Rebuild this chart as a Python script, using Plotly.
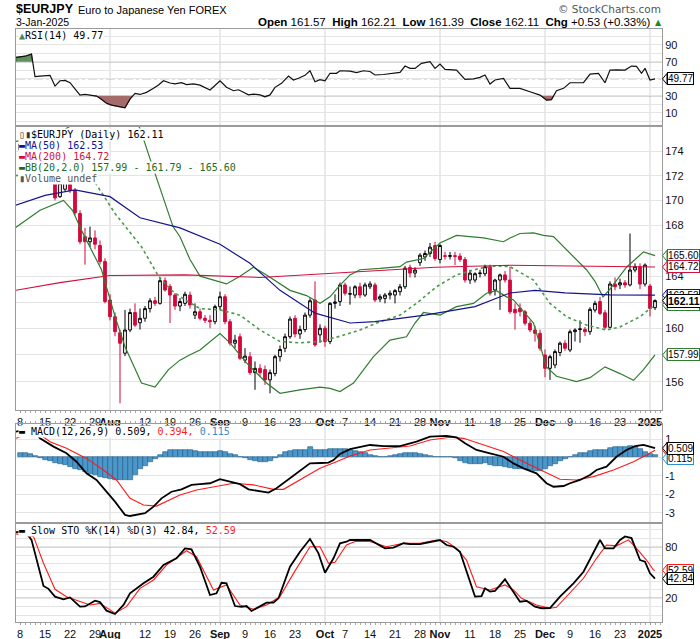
import math
import plotly.graph_objects as go

W, H = 700, 639
def px(x): return x / W
def py(y): return 1 - y / H

# ---------------- data (trading-day index: 0 = 8-Jul-2024 ... 127 = 3-Jan-2025) ----------------
opens = [174.1,174.6,174.7,175.2,172.6,172.3,172.4,172.2,170.3,170.9,
171.3,170.8,168.95,167.1,166.7,167.0,166.4,165.15,162.16,160.88,
159.66,158.12,159.87,161.2,160.42,160.76,161.5,162.1,161.9,163.65,
163.2,162.54,161.69,161.9,162.54,161.0,161.26,160.76,160.6,160.5,
161.65,162.41,160.5,158.87,159.36,157.6,157.86,156.67,156.99,156.9,
156.13,156.6,157.86,158.49,159.36,160.76,159.57,159.9,161.0,162.16,
159.5,160.0,158.99,161.9,162.04,163.32,162.6,162.54,163.18,162.54,
163.18,163.32,162.23,162.28,162.54,162.54,162.8,163.18,164.69,164.24,
165.05,165.5,165.77,166.4,165.3,165.6,165.55,165.6,165.57,165.3,
163.7,163.7,164.2,164.19,164.74,162.93,163.7,164.1,163.7,161.44,
161.52,161.26,160.38,159.87,159.62,157.99,156.99,157.24,158.17,158.87,
158.36,159.74,159.9,159.92,159.74,161.39,162.04,161.18,160.07,163.39,
163.32,163.49,163.32,164.48,164.74,163.39,163.24,161.57]
highs = [174.8,175.0,175.4,175.4,173.0,172.7,172.6,172.4,171.7,171.7,
171.6,171.0,169.2,167.8,167.9,167.6,166.8,165.4,162.6,161.2,
159.9,161.4,161.5,161.9,161.5,161.7,162.3,162.4,163.9,163.9,
163.4,162.7,162.3,162.8,162.8,161.9,161.5,161.0,161.0,161.8,
162.8,162.6,160.7,159.5,159.6,158.5,158.2,157.5,157.3,157.2,
156.9,158.0,158.7,159.6,160.9,161.0,160.2,161.2,162.3,163.6,
160.3,160.2,162.0,162.6,163.5,163.5,163.2,163.3,163.5,163.5,
163.6,163.5,162.6,162.7,162.9,163.0,163.4,164.8,164.9,164.7,
165.8,166.0,166.6,166.7,166.5,165.9,165.9,165.9,165.8,165.5,
164.5,164.3,164.5,164.9,164.9,163.8,164.2,164.4,164.74,161.9,
161.9,161.4,160.6,160.2,159.9,158.4,158.0,158.4,159.0,159.1,
159.9,160.0,160.6,160.1,161.6,162.1,162.4,161.4,163.6,163.9,
163.8,163.7,167.35,165.0,165.0,165.0,163.4,162.21]
lows = [173.8,174.3,174.5,172.0,171.9,172.0,171.9,170.0,170.2,170.7,
170.6,168.8,166.5,164.9,166.3,166.1,164.9,161.9,160.6,159.4,
154.41,157.9,159.7,160.1,159.9,160.5,161.2,161.7,161.8,162.8,
160.4,161.4,161.3,161.7,161.5,160.7,160.6,160.4,160.0,160.3,
161.4,160.3,158.7,158.5,157.6,157.37,156.5,155.4,156.4,155.76,
155.14,156.4,157.5,158.2,159.2,159.3,159.2,159.7,160.8,158.6,
158.9,158.6,158.8,161.5,161.7,162.5,161.8,162.3,162.3,162.4,
163.0,162.0,162.0,161.9,162.2,161.9,162.5,163.0,163.9,163.9,
164.8,165.2,165.5,165.2,165.0,165.3,165.3,164.87,165.1,163.5,
163.4,163.5,163.9,164.0,162.5,162.5,161.4,163.5,161.1,159.9,
160.9,160.2,159.7,158.99,158.3,156.33,156.13,157.0,157.9,158.3,
158.2,159.0,158.9,159.4,159.5,161.2,161.0,159.9,160.0,162.9,
163.0,163.1,163.2,164.3,163.0,163.2,160.9,161.39]
closes = [174.6,174.7,175.2,172.6,172.3,172.4,172.2,170.2,171.4,171.5,
170.8,169.0,166.7,166.7,167.0,166.5,165.15,162.04,160.88,159.74,
158.87,159.87,161.2,160.24,160.76,161.5,162.1,161.9,163.65,162.93,
162.54,161.69,162.04,162.6,161.78,161.26,160.76,160.6,160.5,161.65,
162.41,160.5,158.87,159.1,157.74,157.9,156.67,156.99,156.67,156.13,
156.67,157.86,158.4,159.36,160.7,159.57,159.9,161.0,162.1,158.74,
160.0,158.99,161.9,162.0,163.32,162.68,162.65,163.18,162.54,163.32,
163.4,162.16,162.41,162.54,162.68,162.88,163.18,164.62,164.24,164.48,
165.64,165.77,166.27,165.38,166.4,165.55,165.6,165.55,165.3,163.7,
164.24,164.19,164.24,164.74,162.68,163.7,164.1,163.7,161.26,161.18,
161.26,160.38,159.87,159.62,158.49,156.99,157.86,158.24,158.87,158.49,
159.74,159.87,159.95,159.74,161.44,161.9,161.13,160.07,163.39,163.18,
163.49,163.32,164.48,164.74,163.39,164.87,161.52,162.11]

ma50_pts = [(-1,169.6),(5,170.4),(11,170.85),(18,170.3),(24,168.6),(32,167.8),(40,166.5),
            (46,165.0),(52,162.9),(59,161.15),(66,160.4),(71,160.5),(81,161.0),(91,161.65),
            (98,162.7),(103,162.9),(109,162.7),(118,162.55),(127,162.53)]
ma200_pts = [(-1,162.9),(8,163.5),(18,164.05),(33,164.1),(48,163.9),(64,164.25),(83,164.7),
             (98,164.85),(127,164.72)]
bb_up_pts = [(-1,174.8),(4,175.2),(9,175.8),(13,177.0),(18,178.5),(21,178.2),(24,175.9),
             (26,173.4),(28,171.0),(30.6,167.9),(32,167.1),(34,165.3),(36,164.0),(38.7,163.7),
             (41.3,163.4),(44,164.0),(46.7,164.7),(49.3,164.1),(52,163.4),(54,162.9),(57.3,162.5),
             (60,161.9),(62,162.4),(64,163.3),(66,164.1),(68,164.5),(72,164.6),(76,164.74),
             (77.3,165.1),(80.7,165.38),(84,166.6),(87.3,167.2),(92.7,167.0),(96.7,166.7),
             (98,167.0),(100,167.35),(102.7,167.4),(104.7,167.2),(106.7,167.1),(109.3,166.1),
             (113.3,164.5),(115,163.6),(116.6,162.4),(118,163.0),(121.3,164.7),(124.7,165.9),
             (127,165.60)]
bb_mid_pts = [(-1,172.0),(5,172.3),(10,172.2),(14.3,171.9),(19,168.95),(24.3,166.3),(27.7,164.0),
              (30.3,162.9),(33,162.16),(36,161.5),(40,161.4),(44,161.0),(48,159.87),(52,159.0),
              (56,158.9),(60,159.0),(64,159.4),(68,159.87),(72,160.5),(76,161.0),(79.3,161.9),
              (83.3,163.18),(87.3,164.1),(92,164.62),(95.3,164.8),(98,164.74),(102.7,163.7),
              (106,161.9),(109.3,160.88),(113.3,160.24),(117.3,159.87),(120,160.1),(124,160.88),
              (127,161.79)]
bb_lo_pts = [(-1,167.8),(4,169.2),(8.7,170.0),(10.5,169.2),(12.3,167.6),(16.3,164.5),(19,160.9),
             (21,158.6),(24.3,155.9),(27,155.6),(29.7,156.9),(32,157.6),(34,158.0),(36,158.36),
             (40,159.6),(42,158.9),(45.3,157.4),(49.3,155.9),(52,155.14),(56,155.4),(60,155.6),
             (62,155.5),(64,155.27),(66.7,155.9),(70.7,157.86),(74,159.1),(77.3,159.36),(79,160.4),
             (80.7,161.2),(84,161.0),(87.3,161.65),(90.7,161.9),(93.3,162.68),(95.3,162.88),
             (97.3,162.4),(98.7,162.16),(102.7,160.4),(105.3,157.1),(107.3,156.4),(111.3,156.0),
             (114,156.3),(117,157.1),(120,156.6),(122.7,156.1),(124.7,156.9),(127,157.99)]

rsi_pts = [(-0.8,75.2),(1,76.5),(2.3,79),(3,52.4),(4,53),(5.3,53.2),(6,54),(7,41.4),(8,47.6),(9,48),
           (10,45.3),(11,38),(12,30.8),(13,31.5),(14,31),(15.3,29.6),(16,27),(17.3,21.1),(18.3,19),
           (19.3,17.9),(20,17.5),(21,15.9),(22,26),(23,32.8),(24,31.5),(25.3,34),(26.7,38.7),
           (27.7,42.6),(28.7,47.6),(30,45),(31,44),(32.3,45.3),(33.3,43),(34.7,44),(36,42.5),
           (38,36.7),(39,42),(40,47.6),(41.3,40),(42.7,35.9),(43.7,37),(44.7,33.5),(45.7,31),
           (46.7,32),(48,31),(49,28.8),(50,31),(51,39.9),(52.3,44.6),(53.7,53.2),(54.7,48.5),
           (55.7,50.5),(57,54),(58,59.4),(59,46.5),(60,49),(61,47.6),(62,56.4),(63.3,56.4),
           (64,59.4),(66,59),(67.3,57.1),(68.7,59.4),(70,58.5),(71,54.4),(72.7,55),(74.7,56.4),
           (76,57.5),(77,64.9),(78,62.2),(79,62.2),(80.3,68.1),(82,70),(83,62.2),(84,67.3),
           (85,61.1),(87.3,60.2),(89,49.3),(90.7,49.8),(92,51.6),(93,54.4),(94,43.8),(95,48.5),
           (96.7,50.5),(98,38.7),(100,38.7),(102,34.7),(104,30.8),(105.3,24.9),(106.3,25.5),
           (107.3,35.9),(108.7,38.7),(110,45.3),(111.3,45),(112.7,45.3),(114,55.5),(115.7,56.4),
           (117,45.3),(118,60.2),(119.4,60.5),(121,60.2),(122.3,64.9),(123.3,64.5),(124.3,56.4),
           (125,62.2),(126,48.5),(127,49.77)]

macd_pts = [(-0.8,1.4),(1,1.5),(2.6,1.5),(4,1.04),(6.7,0.59),(9.3,0.23),(11.3,-0.23),(13.3,-0.86),
            (15.3,-1.22),(17.3,-1.86),(19,-2.4),(21,-3.12),(22,-3.18),(25,-3.03),(26.7,-2.67),
            (28.3,-2.22),(30.3,-1.86),(32.3,-1.73),(34.3,-1.49),(36,-1.45),(38,-1.4),(40,-1.18),
            (42,-1.31),(44,-1.45),(45.7,-1.73),(48,-1.82),(49.7,-1.91),(51.3,-1.67),(54,-1.13),
            (56,-0.77),(58,-0.32),(60.3,-0.3),(61.7,-0.28),(62.7,-0.14),(64,0.19),(66,0.45),
            (70,0.68),(72.7,0.62),(76,0.62),(79.3,0.86),(82,1.13),(85.3,1.18),(87.3,1.1),(89,0.77),
            (91.3,0.41),(94,0.23),(96.7,0.04),(98.7,-0.32),(100.7,-0.59),(103.3,-0.86),(105.3,-1.4),
            (106.7,-1.59),(108.7,-1.55),(110,-1.4),(112,-1.22),(114,-0.95),(115.3,-0.68),
            (117.3,-0.5),(119.3,0.04),(121.3,0.41),(123,0.62),(124.7,0.68),(125.7,0.59),(127,0.509)]
signal_pts = [(-0.8,1.04),(1,1.2),(2,1.3),(4,1.25),(6,0.86),(9.3,0.5),(13.3,-0.05),(16.7,-0.68),
              (19.3,-1.22),(22,-2.22),(24.7,-2.58),(27.3,-2.64),(29.3,-2.4),(32,-2.04),(35.3,-1.77),
              (39.3,-1.59),(42.7,-1.4),(46.7,-1.49),(50.7,-1.73),(52.7,-1.73),(56,-1.22),(60,-0.59),
              (63.3,-0.23),(66,0.08),(70,0.41),(74,0.5),(78,0.62),(82,0.95),(86,1.1),(88.7,1.04),
              (92.7,0.68),(96.7,0.32),(100.7,-0.23),(104.7,-0.77),(108,-1.18),(111.3,-1.22),
              (114.7,-1.04),(118.7,-0.68),(122.7,-0.23),(125.3,0.14),(127,0.394)]
hist_vals = [0.24,0.24,0.2,0.08,-0.05,-0.12,-0.2,-0.3,-0.35,-0.4,
-0.5,-0.6,-0.7,-0.8,-0.88,-0.95,-1.05,-1.1,-1.15,-1.2,
-1.25,-1.25,-1.2,-0.95,-0.65,-0.45,-0.25,-0.08,0.12,0.3,
0.4,0.42,0.42,0.42,0.4,0.38,0.3,0.28,0.28,0.32,
0.35,0.3,0.2,0.15,0.05,-0.05,-0.12,-0.18,-0.22,-0.25,
-0.2,-0.05,0.12,0.3,0.38,0.4,0.42,0.42,0.55,0.42,
0.42,0.4,0.45,0.45,0.48,0.45,0.4,0.38,0.3,0.25,
0.12,0.08,0.05,0.05,0.08,0.12,0.18,0.22,0.24,0.24,
0.2,0.15,0.1,0.05,0.05,0.05,0.02,-0.05,-0.2,-0.3,
-0.35,-0.35,-0.35,-0.3,-0.4,-0.45,-0.48,-0.5,-0.55,-0.6,
-0.62,-0.65,-0.7,-0.72,-0.75,-0.6,-0.45,-0.35,-0.2,-0.1,
0.05,0.15,0.22,0.25,0.35,0.4,0.4,0.42,0.5,0.55,
0.55,0.55,0.6,0.55,0.45,0.3,0.2,0.115]

stok_pts = [(-0.8,97),(1,98),(2.3,88),(4.7,34.3),(5.7,31),(7,21.9),(8.7,18.8),(10,21),(12,10.2),
            (13,10.5),(15,17.2),(16,15.5),(17.3,5.6),(19,1.7),(20.7,12.2),(22,25.8),(24.7,37.4),
            (26.7,45.1),(28.7,58.7),(31.3,66.5),(33,78.1),(34.3,77),(36,56.7),(38,23.8),(39.3,25.8),
            (40.3,38.1),(41.3,37.5),(43,11),(44.3,10),(45.3,11),(46.3,5.2),(47.7,10.2),(49.3,14.9),
            (50.7,15),(51.7,20),(54,56.7),(56,74.2),(58,89),(59.7,72.3),(61,49.8),(62.7,66.5),
            (64,84),(65.3,85.8),(66,87.8),(68,88),(70,87.8),(73,78.1),(74.7,79),(76.7,84),(78,83),
            (80,83),(82,85.8),(84,87.8),(85.3,82),(86.7,80),(88,74.2),(91,21.9),(92.3,22.5),
            (93,31.6),(94,27.7),(95,28.5),(97,42.1),(98,33.5),(100,16),(101.3,17),(103,10.2),
            (104.3,8.4),(106,8.5),(108,21.9),(110.7,37.4),(112.7,50.9),(114.7,72.3),(116,87.8),
            (117,78.1),(118.7,78.1),(120,87.8),(121,92),(122.3,90),(122.7,84),(124,64.5),
            (125,62.6),(126,49),(127,42.84)]
stod_pts = [(-0.8,95),(2.7,92),(4.7,60.7),(7,30.5),(9.3,21.9),(12,16),(14,12.2),(16,14.1),(19,2.6),
            (21.3,10.2),(24,31.6),(26.7,41.3),(29.3,58.7),(33.3,75.3),(35.3,68.4),(38.7,29.7),
            (41.3,35.5),(44,12.2),(46.7,7.2),(49.3,12.2),(52,21.9),(54.7,49),(58,80),(60,80),
            (61.7,60.7),(63,62),(65.3,82),(67,86),(70,86),(73.3,80),(76.7,84),(80,84),(83.3,87.8),
            (85.3,86),(87.3,78.1),(89.3,64.5),(91.3,33.5),(94,29.7),(97,35.5),(98.7,29.7),
            (100.3,20),(103.3,12.2),(106,8.4),(107.3,9.5),(110,25.8),(112.7,43.3),(115.3,66.5),
            (117.3,82),(119.3,81),(121.7,88),(123.3,78.1),(125.3,64.5),(126.7,52.9),(127,52.59)]

tick_idx = [0,5,10,15,18,25,30,35,40,45,50,55,61,65,70,75,80,84,90,95,100,105,110,115,120,126]
tick_txt = ["8","15","22","29","<b>Aug</b>","12","19","26","<b>Sep</b>","9","16","23","<b>Oct</b>",
            "7","14","21","28","<b>Nov</b>","11","18","25","<b>Dec</b>","9","16","23","<b>2025</b>"]
month_idx = [18, 40, 61, 84, 105, 126]
price_ticks = [156,158,160,162,164,166,168,170,172,174]
price_tick_txt = ["156","","160","","164","","168","170","172","174"]

# ---------------- helpers ----------------
def unzip(pts):
    return [p[0] for p in pts], [p[1] for p in pts]

def regions(xs, ys, level, above):
    def ins(v): return v > level if above else v < level
    out, cur = [], None
    for k in range(len(xs)):
        if k > 0 and ins(ys[k]) != ins(ys[k-1]):
            t = (level - ys[k-1]) / (ys[k] - ys[k-1])
            xc = xs[k-1] + t * (xs[k] - xs[k-1])
            if cur is None:
                cur = [(xc, level)]
            else:
                cur.append((xc, level)); out.append(cur); cur = None
        if ins(ys[k]):
            if cur is None:
                cur = [(xs[k], level)]
            cur.append((xs[k], ys[k]))
    if cur is not None:
        cur.append((cur[-1][0], level)); out.append(cur)
    return out

RED = '#d4083c'
NAVY = '#14148c'
CRIMSON = '#d0103c'
GREEN = '#2f7d2f'
GRID = '#e4e4e4'
VGRID = '#d4d4d4'
FRAME = '#9a9a9a'
MONO = 'DejaVu Sans Mono'
SANS = 'Liberation Sans'

fig = go.Figure()

# ---------------- main price panel ----------------
fig.add_trace(go.Candlestick(
    x=list(range(len(closes))), open=opens, high=highs, low=lows, close=closes,
    increasing=dict(line=dict(color='#000000', width=1), fillcolor='#ffffff'),
    decreasing=dict(line=dict(color=RED, width=1), fillcolor=RED),
    whiskerwidth=0, xaxis='x', yaxis='y', hoverinfo='skip'))
for pts, col, w, dash in [(bb_up_pts, GREEN, 1.2, 'solid'), (bb_lo_pts, GREEN, 1.2, 'solid'),
                          (bb_mid_pts, '#4a9a4a', 1.6, 'dot'), (ma200_pts, CRIMSON, 1.1, 'solid'),
                          (ma50_pts, NAVY, 1.2, 'solid')]:
    xs, ys = unzip(pts)
    fig.add_trace(go.Scatter(x=xs, y=ys, mode='lines', line=dict(color=col, width=w, dash=dash),
                             xaxis='x', yaxis='y', hoverinfo='skip'))

# ---------------- RSI panel ----------------
rx, rv = unzip(rsi_pts)
for poly in regions(rx, rv, 70, True):
    fig.add_trace(go.Scatter(x=[p[0] for p in poly], y=[p[1] for p in poly], fill='toself',
                             fillcolor='#5f8f5f', line=dict(color='#2e5a2e', width=0.8), mode='lines',
                             xaxis='x2', yaxis='y2', hoverinfo='skip'))
for poly in regions(rx, rv, 30, False):
    fig.add_trace(go.Scatter(x=[p[0] for p in poly], y=[p[1] for p in poly], fill='toself',
                             fillcolor='#a56a6a', line=dict(color='#6a3030', width=0.8), mode='lines',
                             xaxis='x2', yaxis='y2', hoverinfo='skip'))
fig.add_trace(go.Scatter(x=rx, y=rv, mode='lines', line=dict(color='#111111', width=1.2),
                         xaxis='x2', yaxis='y2', hoverinfo='skip'))

# ---------------- MACD panel ----------------
fig.add_trace(go.Bar(x=list(range(len(hist_vals))), y=hist_vals, width=1,
                     marker=dict(color='#4b97c9', line=dict(color='#1f5a85', width=0.6)),
                     xaxis='x3', yaxis='y3', hoverinfo='skip'))
sx, sv = unzip(signal_pts)
fig.add_trace(go.Scatter(x=sx, y=sv, mode='lines', line=dict(color='#ff1a1a', width=1.1),
                         xaxis='x3', yaxis='y3', hoverinfo='skip'))
mx, mv = unzip(macd_pts)
fig.add_trace(go.Scatter(x=mx, y=mv, mode='lines', line=dict(color='#000000', width=1.8),
                         xaxis='x3', yaxis='y3', hoverinfo='skip'))

# ---------------- Slow STO panel ----------------
dx, dv = unzip(stod_pts)
fig.add_trace(go.Scatter(x=dx, y=dv, mode='lines', line=dict(color='#ff1a1a', width=1.1),
                         xaxis='x4', yaxis='y4', hoverinfo='skip'))
kx, kv = unzip(stok_pts)
fig.add_trace(go.Scatter(x=kx, y=kv, mode='lines', line=dict(color='#000000', width=1.8),
                         xaxis='x4', yaxis='y4', hoverinfo='skip'))

# ---------------- axes ----------------
XR = [-0.8, 128.4]
XD = [px(16), px(662)]
RSI_D = [py(126), py(29)]
MAIN_D = [py(410), py(126)]
MACD_D = [py(523), py(424)]
STO_D = [py(622), py(523)]

tickfont = dict(family=SANS, size=11, color='#111111')
def xax(anchor, labels, side='bottom'):
    d = dict(range=XR, domain=XD, anchor=anchor, showgrid=False, zeroline=False, showline=True,
             linecolor=FRAME, linewidth=1, mirror=True, fixedrange=True, side=side)
    if labels:
        d.update(tickmode='array', tickvals=tick_idx, ticktext=tick_txt, tickfont=tickfont,
                 tickangle=0, ticks='outside', ticklen=2, tickcolor='#999999',
                 minor=dict(tickmode='linear', tick0=0, dtick=1, ticks='outside', ticklen=2,
                            tickcolor='#aaaaaa'))
    else:
        d.update(showticklabels=False, ticks='')
    return d

def yax(anchor, dom, rng, vals, txt, typ='linear'):
    return dict(domain=dom, range=rng, anchor=anchor, side='right', type=typ, tickmode='array',
                tickvals=vals, ticktext=txt, showgrid=True, gridcolor=GRID, gridwidth=1,
                zeroline=False, showline=True, linecolor=FRAME, mirror=True, ticks='',
                tickfont=tickfont, fixedrange=True)

x3 = xax('y3', False)
x3.update(side='top', ticks='outside', ticklen=2, tickcolor='#aaaaaa', tickmode='linear', tick0=0, dtick=1)

fig.update_layout(
    width=W, height=H, margin=dict(l=0, r=0, t=0, b=0),
    paper_bgcolor='white', plot_bgcolor='white', showlegend=False, hovermode=False,
    bargap=0, boxgap=0.22,
    xaxis=dict(**xax('y', True), rangeslider=dict(visible=False)),
    xaxis2=xax('y2', False),
    xaxis3=x3,
    xaxis4=xax('y4', True),
    yaxis=yax('x', MAIN_D, [math.log10(153.92), math.log10(176.1)], price_ticks,
              price_tick_txt, typ='log'),
    yaxis2=yax('x2', RSI_D, [-5.6, 108.5], list(range(0, 101, 10)),
               ['', '10', '', '30', '', '', '', '70', '', '90', '']),
    yaxis3=yax('x3', MACD_D, [-3.56, 1.82], [-3, -2, -1, 0, 1], ['-3', '-2', '-1', '', '1']),
    yaxis4=yax('x4', STO_D, [-7.6, 107.6], list(range(0, 101, 10)),
               ['', '', '20', '', '', '', '', '', '80', '', '']),
)

# vertical month grid lines in every panel
for xr, yr in [('x', 'y domain'), ('x2', 'y2 domain'), ('x3', 'y3 domain'), ('x4', 'y4 domain')]:
    for m in month_idx:
        fig.add_shape(type='line', xref=xr, yref=yr, x0=m, x1=m, y0=0, y1=1,
                      line=dict(color=VGRID, width=1), layer='below')

# reference levels
for yr, xr, lv, dash, col in [('y2', 'x2 domain', 70, 'solid', '#666666'), ('y2', 'x2 domain', 30, 'solid', '#666666'),
                              ('y2', 'x2 domain', 50, 'dashdot', '#888888'),
                              ('y4', 'x4 domain', 80, 'solid', '#666666'), ('y4', 'x4 domain', 20, 'solid', '#666666'),
                              ('y4', 'x4 domain', 50, 'dashdot', '#888888')]:
    fig.add_shape(type='line', xref=xr, yref=yr, x0=0, x1=1, y0=lv, y1=lv,
                  line=dict(color=col, width=1.1, dash=dash), layer='below')

# ---------------- texts ----------------
def note(x, y, text, size=10, color='#000000', family=MONO, anchor='left', bg='white'):
    fig.add_annotation(x=px(x), y=py(y), xref='paper', yref='paper', text=text, showarrow=False,
                       xanchor=anchor, yanchor='middle', font=dict(size=size, color=color, family=family),
                       bgcolor=bg, borderpad=0)

CLEAR = 'rgba(0,0,0,0)'
# header
note(15, 9.5, '<b>$EURJPY</b>', 12.5, '#000000', SANS, bg=CLEAR)
note(77, 10, 'Euro to Japanese Yen FOREX', 11, '#000000', SANS, bg=CLEAR)
note(15, 22.5, '3-Jan-2025', 10.5, '#000000', SANS, bg=CLEAR)
note(651, 22.5, '<b>Open</b> 161.57  <b>High</b> 162.21  <b>Low</b> 161.39  <b>Close</b> 162.11  '
     '<b>Chg</b> +0.53 (+0.33%)', 11.5, '#000000', SANS, anchor='right', bg=CLEAR)
note(654, 22.5, '▲', 8, '#1a8a1a', 'DejaVu Sans', bg=CLEAR)
note(662, 9.5, '© StockCharts.com', 10.5, '#555555', 'DejaVu Sans', anchor='right', bg=CLEAR)

# panel legends
note(18, 35, "<span style='color:#4f874f'>▲</span>RSI(14) 49.77")
note(18, 134, "<span style='color:#333333'>▯▮</span>$EURJPY (Daily) 162.11")
note(18, 145.5, "▬MA(50) 162.53", color=NAVY)
note(18, 156.5, "▬MA(200) 164.72", color=CRIMSON)
note(18, 167.3, "▬BB(20,2.0) 157.99 - 161.79 - 165.60", color='#1f6b1f')
note(18, 178, "▮Volume undef", color='#555555')
note(18, 431.5, "▬ MACD(12,26,9) 0.509, <span style='color:#ff1a1a'>0.394,</span> "
     "<span style='color:#2f8ccf'>0.115</span>")
note(18, 530, "▬ Slow STO %K(14) %D(3) 42.84, <span style='color:#ff1a1a'>52.59</span>")

# value tags on the right axis
def tag(yc, text, color, bold=False):
    h = 5.5
    path = (f"M {px(662.5)},{py(yc)} L {px(667)},{py(yc - h)} "
            f"L {px(667)},{py(yc + h)} Z")
    fig.add_shape(type='path', path=path, xref='paper', yref='paper', fillcolor='white',
                  line=dict(color=color, width=1), layer='above')
    fig.add_annotation(x=px(666.5), y=py(yc), xref='paper', yref='paper', xanchor='left',
                       yanchor='middle', text=(f"<b>{text}</b>" if bold else text), showarrow=False,
                       font=dict(family=SANS, size=10 if not bold else 10.5, color='#000000'),
                       bgcolor='white', bordercolor=color, borderwidth=1, borderpad=0)

def yprice(p):
    return 381.7 - 2110 * math.log(p / 156)

tag(61.7 + (70 - 49.77) * 0.85, '49.77', '#000000')
tag(yprice(165.60), '165.60', GREEN)
tag(yprice(164.72), '164.72', CRIMSON)
tag(yprice(157.99), '157.99', GREEN)
tag(yprice(162.53), '162.53', NAVY)
tag(yprice(161.79), '161.79', GREEN)
tag(yprice(162.11), '162.11', '#000000', bold=True)
tag(457.5 - 0.394 * 18.4, '0.394', '#ff1a1a')
tag(457.5 - 0.115 * 18.4 + 3, '0.115', '#2f8ccf')
tag(457.5 - 0.509 * 18.4, '0.509', '#000000')
tag(546.7 + (80 - 52.59) * 0.86, '52.59', '#ff1a1a')
tag(546.7 + (80 - 42.84) * 0.86, '42.84', '#000000')

fig.write_html("out.html")
